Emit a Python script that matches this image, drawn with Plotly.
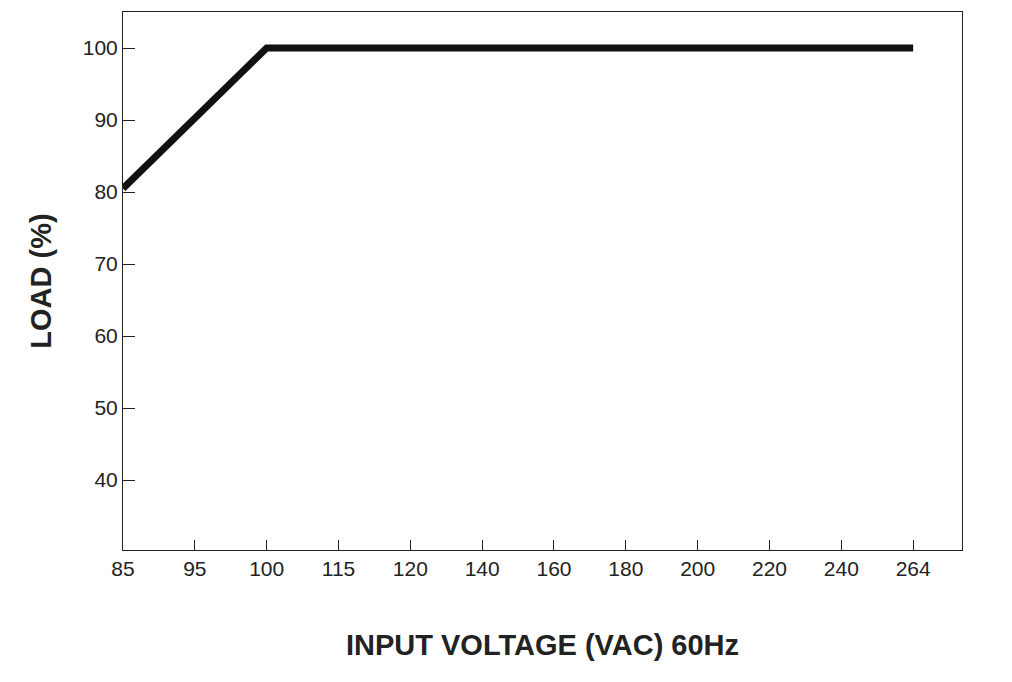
import plotly.graph_objects as go

voltage_labels = ["85", "95", "100", "115", "120", "140", "160", "180", "200", "220", "240", "264"]
line_x = ["85", "100", "264"]
line_load = [80.5, 100, 100]
load_ticks = [40, 50, 60, 70, 80, 90, 100]

font_name = "Liberation Sans Narrow, Arial Narrow, Liberation Sans, Arial"

fig = go.Figure()
fig.add_trace(go.Scatter(x=line_x, y=line_load, mode="lines",
                         line=dict(color="#111111", width=7), showlegend=False))

fig.update_xaxes(type="category", categoryorder="array", categoryarray=voltage_labels,
                 range=[0, 11.68], showgrid=False, showline=True, linecolor="#222", linewidth=1,
                 mirror=True, ticks="inside", ticklen=10, tickcolor="#222",
                 tickfont=dict(size=21, color="#222"),
                 title=dict(text="<b>INPUT VOLTAGE (VAC) 60Hz</b>", font=dict(size=29, color="#222"),
                            standoff=55))
fig.update_yaxes(range=[30.3, 105], tickvals=load_ticks, showgrid=False, showline=True,
                 linecolor="#222", linewidth=1, mirror=True, ticks="inside", ticklen=12,
                 tickcolor="#222", tickfont=dict(size=21, color="#222"),
                 title=dict(text="<b>LOAD (%)</b>", font=dict(size=29, color="#222"), standoff=22))

fig.update_layout(width=1012, height=682, plot_bgcolor="white", paper_bgcolor="white",
                  font=dict(family=font_name),
                  margin=dict(l=115, r=58, t=4, b=140))
fig.write_html("out.html")
